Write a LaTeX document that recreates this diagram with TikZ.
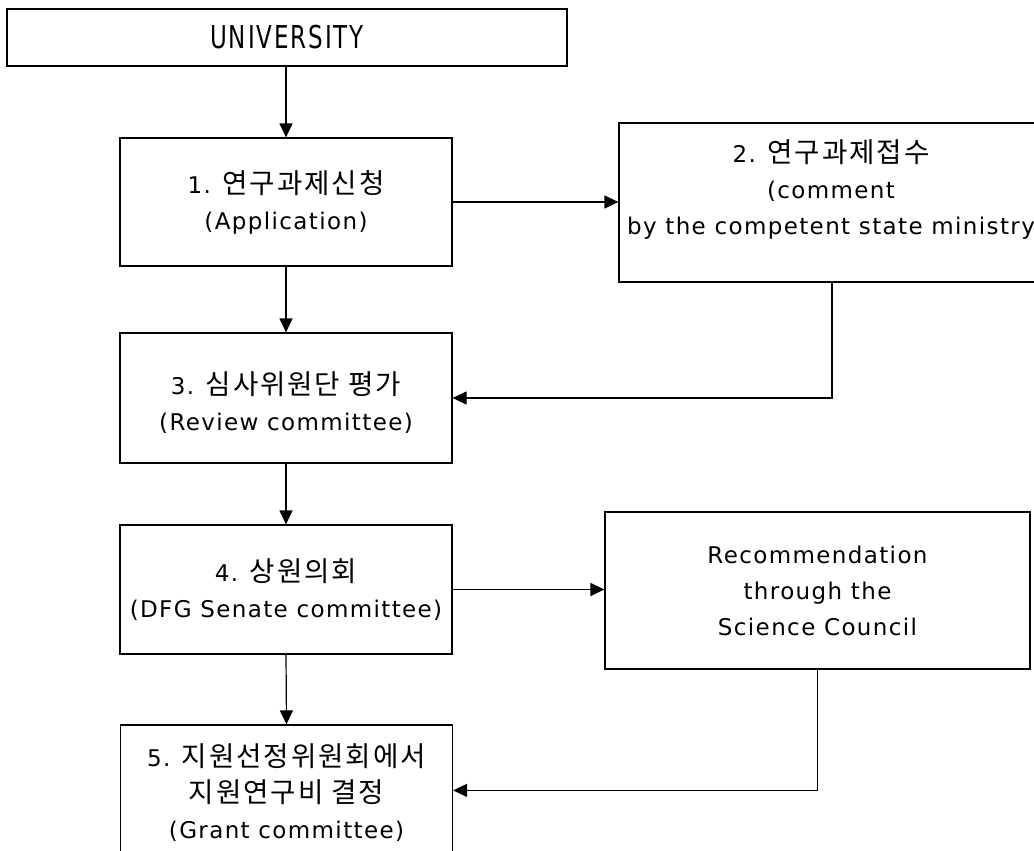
\documentclass[tikz,border=0pt]{standalone}
\usepackage{fontspec}
\setmainfont{DejaVu Sans}[LetterSpace=6]
\newfontfamily\kr{Noto Sans CJK KR}[Scale=1.2, LetterSpace=7]
\usetikzlibrary{arrows.meta}
\begin{document}
\begin{tikzpicture}[x=1bp,y=-1bp,
  box/.style={draw=black, line width=1.2bp, minimum width=332bp, inner sep=0pt,
    align=center, font=\fontsize{23bp}{36bp}\selectfont},
  txt/.style={inner sep=0pt, align=center, font=\fontsize{23bp}{36bp}\selectfont},
  arr/.style={line width=1.2bp, -{Triangle[length=14bp,width=13bp]}}]
\useasboundingbox (0,0) rectangle (1034,851);
\clip (0,0) rectangle (1034,851);

% boxes
\node[box, minimum width=560bp, minimum height=57bp] (U) at (287,37.5)
  {\fontsize{31.5bp}{36bp}\selectfont\addfontfeature{FakeStretch=0.73}UNIVERSITY};
\node[box, minimum height=128bp] (B1) at (286,202)
  {1. {\kr 연구과제신청}\\(Application)};
\node[box, minimum width=426bp, minimum height=159bp] (B2) at (832,202.5) {};
\node[txt] (B2t) at (831,189)
  {2. {\kr 연구과제접수}\\(comment\\by the competent state ministry};
\node[box, minimum height=130bp] (B3) at (286,398) {};
\node[txt] (B3t) at (286,403)
  {3. {\kr 심사위원단 평가}\\(Review committee)};
\node[box, minimum height=129bp] (B4) at (286,589.5)
  {4. {\kr 상원의회}\\(DFG Senate committee)};
\node[box, minimum width=425bp, minimum height=157bp] (R) at (817.5,590.5)
  {Recommendation\\through the\\Science Council};
\node[box, minimum height=150bp] (B5) at (286.5,800) {};
\node[txt] (B5t) at (286.5,793)
  {5. {\kr 지원선정위원회에서}\\{\kr 지원연구비 결정}\\(Grant committee)};

% connectors
\path (B5.north east) ++(0,66) coordinate (B5in);
\draw[arr] (U.south -| B1.north) -- (B1.north);
\draw[arr] (B1.east) -- (B1.east -| B2.west);
\draw[arr] (B1.south) -- (B3.north);
\draw[arr] (B2.south) |- (B3.east);
\draw[arr] (B3.south) -- (B4.north);
\draw[arr] (B4.east) -- (B4.east -| R.west);
\draw[arr] (B4.south) -- (B5.north);
\draw[arr] (R.south) |- (B5in);
\end{tikzpicture}
\end{document}
